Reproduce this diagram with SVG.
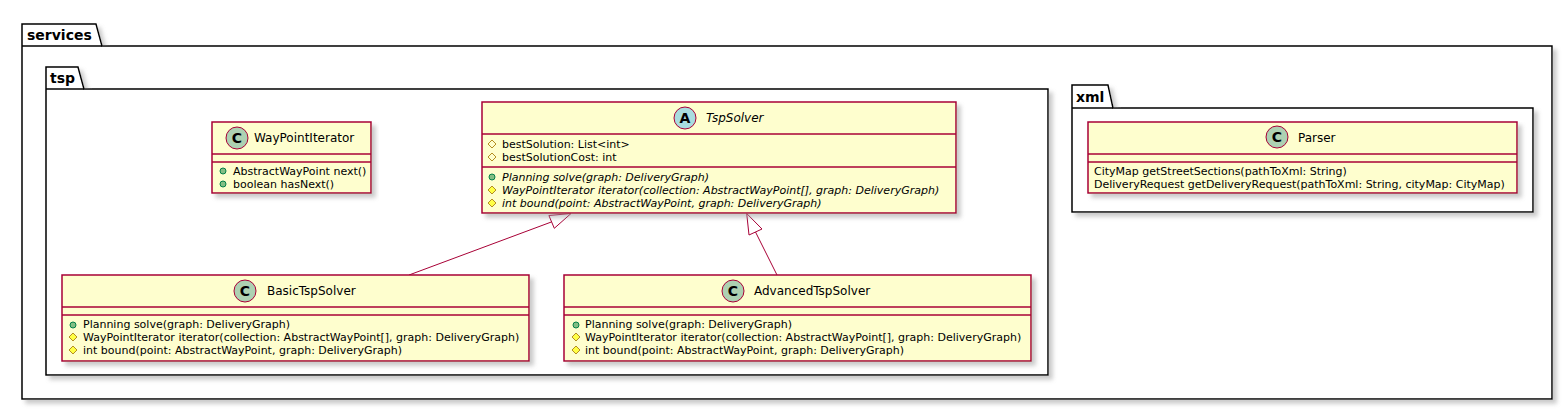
<svg xmlns="http://www.w3.org/2000/svg" width="1567" height="411" viewBox="0 0 1567 411">
<style>
text{font-family:"DejaVu Sans","Liberation Sans",sans-serif;fill:#000}
.pkg{fill:#FFFFFF;stroke:#000000;stroke-width:1.5}
.pkgt{font-size:14px;font-weight:bold}
.cls{fill:#FEFECE;stroke:#A80036;stroke-width:1.5}
.sep{stroke:#A80036;stroke-width:1.5}
.cname{font-size:12px}
.mem{font-size:11px}
.it{font-style:italic}
.circC{fill:#ADD1B2;stroke:#A80036;stroke-width:1}
.circA{fill:#A9DCDF;stroke:#A80036;stroke-width:1}
.letter{font-size:14px;font-weight:bold;text-anchor:middle}
.pub{fill:#84BE84;stroke:#038048;stroke-width:1}
.protf{fill:none;stroke:#B38D22;stroke-width:1}
.protm{fill:#FFFF44;stroke:#B38D22;stroke-width:1}
.edge{fill:none;stroke:#A80036;stroke-width:1}
</style>
<defs>
<filter id="sh" x="-5%" y="-5%" width="110%" height="120%">
<feGaussianBlur in="SourceAlpha" stdDeviation="2"/>
<feOffset dx="4" dy="4" result="o"/>
<feColorMatrix in="o" type="matrix" values="0 0 0 0 0.3  0 0 0 0 0.3  0 0 0 0 0.3  0 0 0 0.5 0" result="s"/>
<feMerge><feMergeNode in="s"/><feMergeNode in="SourceGraphic"/></feMerge>
</filter>
</defs>
<rect width="1567" height="411" fill="#FFFFFF"/>

<g id="pkg-services">
<path class="pkg" filter="url(#sh)" d="M22,24 L96,24 L102,46 L1552,46 L1552,399 L22,399 Z"/>
<line x1="22" y1="46" x2="102" y2="46" stroke="#000" stroke-width="1.5"/>
<text class="pkgt" x="27" y="40">services</text>
</g>

<g id="pkg-tsp">
<path class="pkg" filter="url(#sh)" d="M46,67 L78,67 L84,89 L1048,89 L1048,375 L46,375 Z"/>
<line x1="46" y1="89" x2="84" y2="89" stroke="#000" stroke-width="1.5"/>
<text class="pkgt" x="50" y="83">tsp</text>
</g>

<g id="pkg-xml">
<path class="pkg" filter="url(#sh)" d="M1072,85 L1108,85 L1113,108 L1533,108 L1533,212 L1072,212 Z"/>
<line x1="1072" y1="108" x2="1113" y2="108" stroke="#000" stroke-width="1.5"/>
<text class="pkgt" x="1076" y="102">xml</text>
</g>

<g id="connectors">
<line class="edge" x1="409" y1="275" x2="551.6" y2="221.9"/>
<polygon class="edge" points="571,213.5 554.3,228.3 548.9,215.5"/>
<line class="edge" x1="777" y1="275" x2="755.5" y2="232"/>
<polygon class="edge" points="746.7,213.5 749,235 762,229"/>
</g>

<g id="TspSolver">
<rect class="cls" filter="url(#sh)" x="482" y="102" width="474" height="111"/>
<circle class="circA" cx="685" cy="118" r="11"/>
<text class="letter" x="685" y="123">A</text>
<text class="cname it" x="706" y="122">TspSolver</text>
<line class="sep" x1="482" y1="134" x2="956" y2="134"/>
<polygon class="protf" points="492,140 496,144 492,148 488,144"/>
<text class="mem" x="502" y="148">bestSolution: List&lt;int&gt;</text>
<polygon class="protf" points="492,153 496,157 492,161 488,157"/>
<text class="mem" x="502" y="161">bestSolutionCost: int</text>
<line class="sep" x1="482" y1="167" x2="956" y2="167"/>
<circle class="pub" cx="492" cy="177" r="3"/>
<text class="mem it" x="502" y="181">Planning solve(graph: DeliveryGraph)</text>
<polygon class="protm" points="492,186 496,190 492,194 488,190"/>
<text class="mem it" x="502" y="194">WayPointIterator iterator(collection: AbstractWayPoint[], graph: DeliveryGraph)</text>
<polygon class="protm" points="492,199 496,203 492,207 488,203"/>
<text class="mem it" x="502" y="207">int bound(point: AbstractWayPoint, graph: DeliveryGraph)</text>
</g>

<g id="WayPointIterator">
<rect class="cls" filter="url(#sh)" x="212" y="122" width="159" height="71"/>
<circle class="circC" cx="237" cy="138" r="11"/>
<text class="letter" x="237" y="143">C</text>
<text class="cname" x="254" y="142">WayPointIterator</text>
<line class="sep" x1="212" y1="154" x2="371" y2="154"/>
<line class="sep" x1="212" y1="162" x2="371" y2="162"/>
<circle class="pub" cx="223" cy="171" r="3"/>
<text class="mem" x="233" y="175">AbstractWayPoint next()</text>
<circle class="pub" cx="223" cy="184" r="3"/>
<text class="mem" x="233" y="188">boolean hasNext()</text>
</g>

<g id="BasicTspSolver">
<rect class="cls" filter="url(#sh)" x="62" y="275" width="467" height="86"/>
<circle class="circC" cx="245" cy="291" r="11"/>
<text class="letter" x="245" y="296">C</text>
<text class="cname" x="267" y="295">BasicTspSolver</text>
<line class="sep" x1="62" y1="307" x2="529" y2="307"/>
<line class="sep" x1="62" y1="315" x2="529" y2="315"/>
<circle class="pub" cx="73" cy="325" r="3"/>
<text class="mem" x="83" y="328">Planning solve(graph: DeliveryGraph)</text>
<polygon class="protm" points="73,333 77,337 73,341 69,337"/>
<text class="mem" x="83" y="341">WayPointIterator iterator(collection: AbstractWayPoint[], graph: DeliveryGraph)</text>
<polygon class="protm" points="73,346 77,350 73,354 69,350"/>
<text class="mem" x="83" y="354">int bound(point: AbstractWayPoint, graph: DeliveryGraph)</text>
</g>

<g id="AdvancedTspSolver">
<rect class="cls" filter="url(#sh)" x="564" y="275" width="467" height="86"/>
<circle class="circC" cx="733" cy="291" r="11"/>
<text class="letter" x="733" y="296">C</text>
<text class="cname" x="754" y="295">AdvancedTspSolver</text>
<line class="sep" x1="564" y1="307" x2="1031" y2="307"/>
<line class="sep" x1="564" y1="315" x2="1031" y2="315"/>
<circle class="pub" cx="576" cy="325" r="3"/>
<text class="mem" x="585" y="328">Planning solve(graph: DeliveryGraph)</text>
<polygon class="protm" points="576,333 580,337 576,341 572,337"/>
<text class="mem" x="585" y="341">WayPointIterator iterator(collection: AbstractWayPoint[], graph: DeliveryGraph)</text>
<polygon class="protm" points="576,346 580,350 576,354 572,350"/>
<text class="mem" x="585" y="354">int bound(point: AbstractWayPoint, graph: DeliveryGraph)</text>
</g>

<g id="Parser">
<rect class="cls" filter="url(#sh)" x="1088" y="122" width="429" height="71"/>
<circle class="circC" cx="1277" cy="137" r="11"/>
<text class="letter" x="1277" y="142">C</text>
<text class="cname" x="1298" y="142">Parser</text>
<line class="sep" x1="1088" y1="154" x2="1517" y2="154"/>
<line class="sep" x1="1088" y1="162" x2="1517" y2="162"/>
<text class="mem" x="1094" y="175">CityMap getStreetSections(pathToXml: String)</text>
<text class="mem" x="1094" y="188">DeliveryRequest getDeliveryRequest(pathToXml: String, cityMap: CityMap)</text>
</g>
</svg>
